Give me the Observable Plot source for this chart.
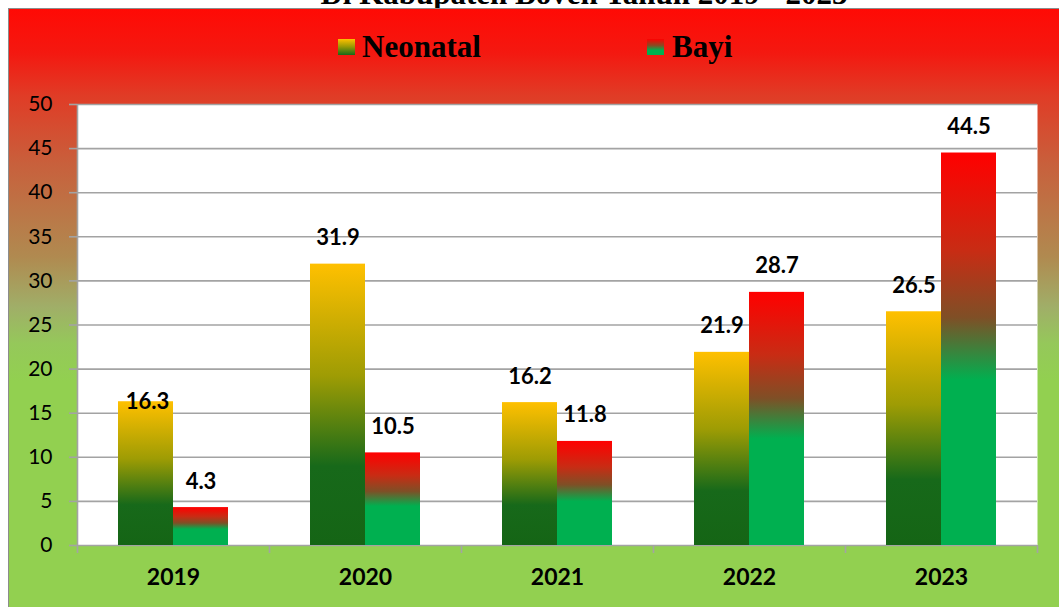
<!DOCTYPE html>
<html>
<head>
<meta charset="utf-8">
<script src="https://cdn.jsdelivr.net/npm/d3@7"></script>
<script src="https://cdn.jsdelivr.net/npm/@observablehq/plot@0.6"></script>
<style>
  html, body { margin: 0; padding: 0; width: 1059px; height: 607px; overflow: hidden; background: #fff; }
  #title { position: absolute; left: 0; top: -22px; width: 1168px; text-align: center;
    font: bold 31px/31px "Liberation Serif", serif; color: #000; white-space: nowrap; }
  #chart { position: absolute; left: 8px; top: 8px; width: 1100px; height: 620px;
    border-left: 1px solid #8c8c8c; border-top: 1px solid #8c8c8c;
    background: linear-gradient(to bottom, #ff0a05 0%, #f41810 7%, #e03c26 14%, #c8603c 25%, #b08a50 40%, #a0ae68 48%, #95c85a 54%, #92d050 60%, #92d050 100%); }
  .lg-sw { position: absolute; width: 17px; height: 16px; }
  .lg-tx { position: absolute; font: bold 31px/31px "Liberation Serif", serif; color: #000; white-space: nowrap; }
  #plot { position: absolute; left: 0; top: 80px; }
</style>
</head>
<body>
<div id="title">Di Kabupaten Boven Tahun 2019 - 2023</div>
<div id="chart">
  <div class="lg-sw" style="left:329px;top:30px;background:linear-gradient(to bottom,#ffc000,#9e9c04 45%,#17691a)"></div>
  <div class="lg-tx" id="lg0" style="left:353px;top:22px"></div>
  <div class="lg-sw" style="left:638px;top:30px;background:linear-gradient(to bottom,#ff0000,#8a4a22 40%,#00b050 70%)"></div>
  <div class="lg-tx" id="lg1" style="left:663px;top:22px"></div>
  <div id="plot"></div>
</div>
<script>
const years = ["2019", "2020", "2021", "2022", "2023"];
const series = ["Neonatal", "Bayi"];
const neonatal = [16.3, 31.9, 16.2, 21.9, 26.5];
const bayi = [4.3, 10.5, 11.8, 28.7, 44.5];
const yTicks = [0, 5, 10, 15, 20, 25, 30, 35, 40, 45, 50];

document.getElementById("lg0").textContent = series[0];
document.getElementById("lg1").textContent = series[1];

const data = years.flatMap((year, i) => [
  {year, i, series: series[0], value: neonatal[i]},
  {year, i, series: series[1], value: bayi[i]}
]);
const neo = data.filter(d => d.series === series[0]);
const bay = data.filter(d => d.series === series[1]);

const defs = () => {
  const g = d3.create("svg:defs");
  const mk = (id, stops) => {
    const lg = g.append("linearGradient").attr("id", id).attr("x1", 0).attr("y1", 0).attr("x2", 0).attr("y2", 1);
    stops.forEach(([o, c]) => lg.append("stop").attr("offset", o).attr("stop-color", c));
  };
  mk("gNeo", [[0, "#ffc000"], [0.4, "#9e9c04"], [0.72, "#17691a"], [1, "#156515"]]);
  mk("gBay", [[0, "#ff0000"], [0.25, "#c82c14"], [0.42, "#7f4f26"], [0.58, "#00b050"], [1, "#00b050"]]);
  return g.node();
};

const grid = "#a3a3a3";
const lbl = {fontSize: 22, fontWeight: "bold", fill: "#000", text: d => d.value.toFixed(1)};
const chart = Plot.plot({
  width: 1050,
  height: 518,
  marginLeft: 68,
  marginRight: 22,
  marginTop: 15,
  marginBottom: 62,
  style: {fontFamily: "Lato, sans-serif", color: "#000", background: "transparent", overflow: "visible"},
  x: {type: "linear", domain: [0, years.length], axis: null},
  y: {domain: [0, 50], axis: null},
  marks: [
    defs,
    Plot.frame({fill: "white", stroke: null}),
    Plot.ruleY(yTicks, {stroke: grid, strokeWidth: 1.6}),
    Plot.ruleX([0], {stroke: grid, strokeWidth: 1.6}),
    Plot.axisY({ticks: yTicks, label: null, tickSize: 8, tickPadding: 17, stroke: grid, strokeWidth: 1.6, fontSize: 21, fill: "#000"}),
    Plot.axisX({ticks: d3.range(years.length + 1), label: null, tickSize: 8, tickFormat: () => "", stroke: grid, strokeWidth: 1.6}),
    Plot.rectY(neo, {x1: d => d.i, x2: d => d.i + 0.5, y: "value", fill: "url(#gNeo)", insetLeft: 41}),
    Plot.rectY(bay, {x1: d => d.i + 0.5, x2: d => d.i + 1, y: "value", fill: "url(#gBay)", insetRight: 41}),
    Plot.text(years, {x: (d, i) => i + 0.5, frameAnchor: "bottom", dy: 39, text: d => d, fontSize: 23, fontWeight: "bold", fill: "#000"}),
    Plot.text(neo.filter(d => d.i === 0), {...lbl, x: d => d.i + 0.25, y: "value", dx: 22, dy: 0}),
    Plot.text(neo.filter(d => d.i !== 0), {...lbl, x: d => d.i + 0.25, y: "value", dx: 20.5, dy: -26}),
    Plot.text(bay, {...lbl, x: d => d.i + 0.75, y: "value", dx: -20.5, dy: -26})
  ]
});
document.getElementById("plot").appendChild(chart);
</script>
</body>
</html>
